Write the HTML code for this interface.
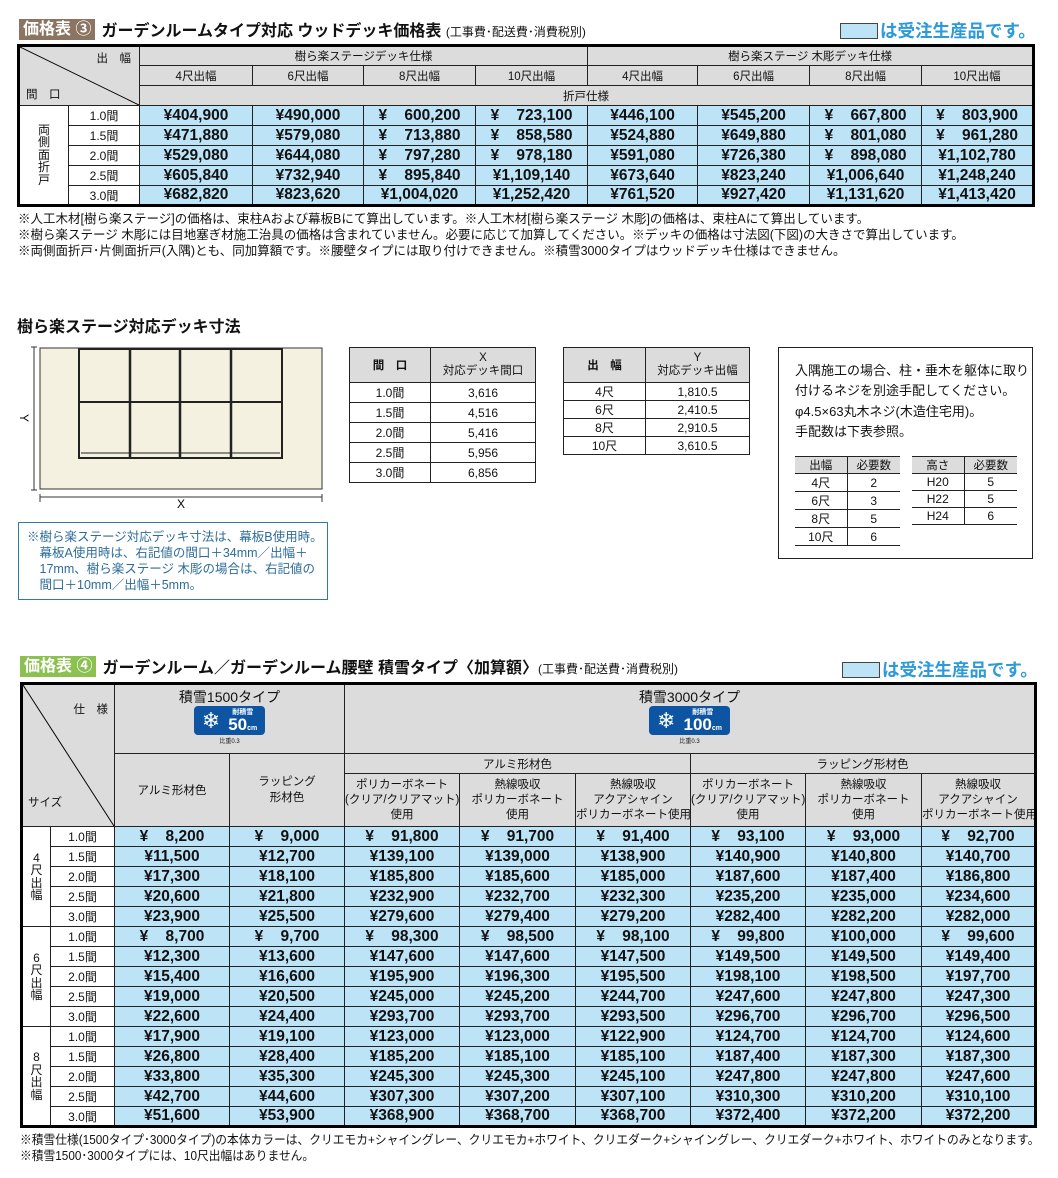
<!DOCTYPE html>
<html><head><meta charset="utf-8">
<style>
*{margin:0;padding:0;box-sizing:border-box}
body{width:1058px;height:1178px;background:#fff;position:relative;font-family:"Liberation Sans","Noto Sans CJK JP",sans-serif;color:#111;overflow:hidden}
.abs{position:absolute}
table{border-collapse:collapse;table-layout:fixed;position:absolute}
td{border:1px solid #222;text-align:center;vertical-align:middle;padding:0;overflow:hidden;white-space:nowrap}
.h{background:#dcdcdc;font-size:11.5px}
.b{background:#bde3f7;font-weight:bold;font-size:15.5px}
.w{background:#fff;font-size:12px}
.badge{display:inline-block;font-weight:bold;color:#fff;font-size:16px;line-height:21px;padding:0 4px}
.title{font-weight:bold;font-size:16px;white-space:nowrap}
.sub{font-size:12px;font-weight:normal}
.note{font-size:12.5px;white-space:nowrap;line-height:16px;transform-origin:0 0}
.leg{display:flex;align-items:center;white-space:nowrap}
.leg i{display:inline-block;width:38px;height:16px;background:#bde3f7;border:1px solid #444;margin-right:2px}
.leg span{color:#2d9ad9;font-weight:bold;font-size:17.5px}
.vt{font-size:12px;line-height:12.5px;white-space:normal;word-break:break-all;width:14px;margin:0 auto}
.snow{display:inline-flex;align-items:center;background:#0d55a3;border-radius:4px;color:#fff;height:29px;padding:0 8px;gap:8px}
.snow .f{font-size:22px;line-height:22px}
.snow .t{display:flex;flex-direction:column;align-items:center;line-height:1}
.snow .t b{font-size:7px}
.snow .t em{font-style:normal;font-weight:bold;font-size:17px}
.sg{font-size:6px;display:block;margin-top:1px}
</style></head><body>

<div class="abs" style="left:19px;top:17px;display:flex;align-items:center">
<span class="badge" style="background:#8c7462">価格表 ③</span>
<span class="title" style="margin-left:6px">ガーデンルームタイプ対応 ウッドデッキ価格表 <span class="sub">(工事費･配送費･消費税別)</span></span>
</div>
<div class="abs leg" style="left:840px;top:18px"><i></i><span>は受注生産品です。</span></div>

<table style="left:17px;top:44px;width:1017px;border:3px solid #000">
<colgroup><col style="width:50px"><col style="width:71px"><col style="width:113px"><col style="width:111px"><col style="width:112px"><col style="width:112px"><col style="width:110px"><col style="width:112px"><col style="width:112px"><col style="width:112px"></colgroup>
<tr style="height:20px"><td class="h" colspan="2" rowspan="3" style="position:relative;background:#dcdcdc url('data:image/svg+xml;utf8,<svg xmlns=%22http://www.w3.org/2000/svg%22 width=%22121%22 height=%2260%22 preserveAspectRatio=%22none%22><line x1=%220%22 y1=%220%22 x2=%22121%22 y2=%2260%22 stroke=%22black%22 stroke-width=%221%22/></svg>') no-repeat;background-size:100% 100%">
<span style="position:absolute;right:8px;top:3px">出　幅</span><span style="position:absolute;left:6px;bottom:3px">間　口</span></td>
<td class="h" colspan="4">樹ら楽ステージデッキ仕様</td><td class="h" colspan="4">樹ら楽ステージ 木彫デッキ仕様</td></tr>
<tr style="height:20px"><td class="h">4尺出幅</td><td class="h">6尺出幅</td><td class="h">8尺出幅</td><td class="h">10尺出幅</td><td class="h">4尺出幅</td><td class="h">6尺出幅</td><td class="h">8尺出幅</td><td class="h">10尺出幅</td></tr>
<tr style="height:20px"><td class="h" colspan="8">折戸仕様</td></tr>
<tr style="height:20px"><td class="w" rowspan="5"><div class="vt">両側面折戸</div></td><td class="w">1.0間</td><td class="b">¥404,900</td><td class="b">¥490,000</td><td class="b">¥&#8199;&#8199;600,200</td><td class="b">¥&#8199;&#8199;723,100</td><td class="b">¥446,100</td><td class="b">¥545,200</td><td class="b">¥&#8199;&#8199;667,800</td><td class="b">¥&#8199;&#8199;803,900</td></tr>
<tr style="height:20px"><td class="w">1.5間</td><td class="b">¥471,880</td><td class="b">¥579,080</td><td class="b">¥&#8199;&#8199;713,880</td><td class="b">¥&#8199;&#8199;858,580</td><td class="b">¥524,880</td><td class="b">¥649,880</td><td class="b">¥&#8199;&#8199;801,080</td><td class="b">¥&#8199;&#8199;961,280</td></tr>
<tr style="height:20px"><td class="w">2.0間</td><td class="b">¥529,080</td><td class="b">¥644,080</td><td class="b">¥&#8199;&#8199;797,280</td><td class="b">¥&#8199;&#8199;978,180</td><td class="b">¥591,080</td><td class="b">¥726,380</td><td class="b">¥&#8199;&#8199;898,080</td><td class="b">¥1,102,780</td></tr>
<tr style="height:20px"><td class="w">2.5間</td><td class="b">¥605,840</td><td class="b">¥732,940</td><td class="b">¥&#8199;&#8199;895,840</td><td class="b">¥1,109,140</td><td class="b">¥673,640</td><td class="b">¥823,240</td><td class="b">¥1,006,640</td><td class="b">¥1,248,240</td></tr>
<tr style="height:20px"><td class="w">3.0間</td><td class="b">¥682,820</td><td class="b">¥823,620</td><td class="b">¥1,004,020</td><td class="b">¥1,252,420</td><td class="b">¥761,520</td><td class="b">¥927,420</td><td class="b">¥1,131,620</td><td class="b">¥1,413,420</td></tr>
</table>

<div class="abs note" style="left:18px;top:211px">※人工木材[樹ら楽ステージ]の価格は、束柱Aおよび幕板Bにて算出しています。※人工木材[樹ら楽ステージ 木彫]の価格は、束柱Aにて算出しています。<br>※樹ら楽ステージ 木彫には目地塞ぎ材施工治具の価格は含まれていません。必要に応じて加算してください。※デッキの価格は寸法図(下図)の大きさで算出しています。<br>※両側面折戸･片側面折戸(入隅)とも、同加算額です。※腰壁タイプには取り付けできません。※積雪3000タイプはウッドデッキ仕様はできません。</div>

<div class="abs title" style="left:17px;top:313px">樹ら楽ステージ対応デッキ寸法</div>
<svg class="abs" style="left:0;top:340px" width="340" height="175">
<rect x="40" y="8" width="282" height="141" fill="#f4f1e1" stroke="#333" stroke-width="1"/>
<g fill="#f4f1e1" stroke="#222">
<rect x="79" y="9" width="203" height="109" stroke-width="2"/>
<line x1="79" y1="62" x2="282" y2="62" stroke-width="2"/>
<line x1="130" y1="9" x2="130" y2="118" stroke-width="2.5"/>
<line x1="180" y1="9" x2="180" y2="118" stroke-width="2.5"/>
<line x1="231" y1="9" x2="231" y2="118" stroke-width="2.5"/>
<line x1="81" y1="113" x2="280" y2="113" stroke-width="1"/>
</g>
<line x1="34" y1="7" x2="34" y2="150" stroke="#333"/>
<line x1="31" y1="7" x2="37" y2="7" stroke="#333"/><line x1="31" y1="150" x2="37" y2="150" stroke="#333"/>
<line x1="40" y1="157" x2="322" y2="157" stroke="#333"/>
<line x1="40" y1="154" x2="40" y2="162" stroke="#333"/><line x1="322" y1="154" x2="322" y2="162" stroke="#333"/>
<text x="181" y="168" font-size="12" text-anchor="middle" font-family="Liberation Sans">X</text>
<text x="0" y="0" font-size="12" text-anchor="middle" font-family="Liberation Sans" transform="translate(20,78) rotate(90)">Y</text>
</svg>
<div class="abs" style="left:18px;top:522px;width:310px;height:78px;border:1.5px solid #2d7ba6;color:#2d6c9a;font-size:12.5px;line-height:16px;padding:6px 0 0 8px;white-space:nowrap">※樹ら楽ステージ対応デッキ寸法は、幕板B使用時。<br>　幕板A使用時は、右記値の間口＋34mm／出幅＋<br>　17mm、樹ら楽ステージ 木彫の場合は、右記値の<br>　間口＋10mm／出幅＋5mm。</div>

<table style="left:349px;top:347px;width:186px;border:1px solid #222">
<colgroup><col style="width:81px"><col style="width:105px"></colgroup>
<tr style="height:35px"><td class="h" style="font-weight:bold">間　口</td><td class="h" style="line-height:13px">X<br>対応デッキ間口</td></tr>
<tr style="height:20px"><td class="w">1.0間</td><td class="w">3,616</td></tr>
<tr style="height:20px"><td class="w">1.5間</td><td class="w">4,516</td></tr>
<tr style="height:20px"><td class="w">2.0間</td><td class="w">5,416</td></tr>
<tr style="height:20px"><td class="w">2.5間</td><td class="w">5,956</td></tr>
<tr style="height:20px"><td class="w">3.0間</td><td class="w">6,856</td></tr>
</table>

<table style="left:563px;top:347px;width:186px;border:1px solid #222">
<colgroup><col style="width:82px"><col style="width:104px"></colgroup>
<tr style="height:35px"><td class="h" style="font-weight:bold">出　幅</td><td class="h" style="line-height:13px">Y<br>対応デッキ出幅</td></tr>
<tr style="height:17px"><td class="w">4尺</td><td class="w">1,810.5</td></tr>
<tr style="height:17px"><td class="w">6尺</td><td class="w">2,410.5</td></tr>
<tr style="height:17px"><td class="w">8尺</td><td class="w">2,910.5</td></tr>
<tr style="height:17px"><td class="w">10尺</td><td class="w">3,610.5</td></tr>
</table>

<div class="abs" style="left:778px;top:347px;width:255px;height:212px;border:1px solid #222"></div>
<div class="abs" style="left:795px;top:361px;font-size:13px;line-height:20.3px;white-space:nowrap">入隅施工の場合、柱・垂木を躯体に取り<br>付けるネジを別途手配してください。<br>φ4.5×63丸木ネジ(木造住宅用)。<br>手配数は下表参照。</div>
<table style="left:795px;top:456px;width:105px;border-top:1px solid #222;border-bottom:1px solid #222">
<colgroup><col style="width:52px"><col style="width:53px"></colgroup>
<tr style="height:17px"><td class="h" style="border-left:0">出幅</td><td class="h" style="border-right:0">必要数</td></tr>
<tr style="height:17px"><td class="w" style="border-left:0">4尺</td><td class="w" style="border-right:0">2</td></tr>
<tr style="height:17px"><td class="w" style="border-left:0">6尺</td><td class="w" style="border-right:0">3</td></tr>
<tr style="height:17px"><td class="w" style="border-left:0">8尺</td><td class="w" style="border-right:0">5</td></tr>
<tr style="height:17px"><td class="w" style="border-left:0">10尺</td><td class="w" style="border-right:0">6</td></tr>
</table>
<table style="left:912px;top:456px;width:105px;border-top:1px solid #222;border-bottom:1px solid #222">
<colgroup><col style="width:52px"><col style="width:53px"></colgroup>
<tr style="height:17px"><td class="h" style="border-left:0">高さ</td><td class="h" style="border-right:0">必要数</td></tr>
<tr style="height:17px"><td class="w" style="border-left:0">H20</td><td class="w" style="border-right:0">5</td></tr>
<tr style="height:17px"><td class="w" style="border-left:0">H22</td><td class="w" style="border-right:0">5</td></tr>
<tr style="height:17px"><td class="w" style="border-left:0">H24</td><td class="w" style="border-right:0">6</td></tr>
</table>

<div class="abs" style="left:20px;top:654px;display:flex;align-items:center">
<span class="badge" style="background:#8cc152">価格表 ④</span>
<span class="title" style="margin-left:6px">ガーデンルーム／ガーデンルーム腰壁 積雪タイプ〈加算額〉<span class="sub">(工事費･配送費･消費税別)</span></span>
</div>
<div class="abs leg" style="left:842px;top:657px"><i></i><span>は受注生産品です。</span></div>

<table style="left:20px;top:682px;width:1014px;border:3px solid #000">
<colgroup><col style="width:29px"><col style="width:64px"><col style="width:115px"><col style="width:115px"><col style="width:115px"><col style="width:116px"><col style="width:115px"><col style="width:115px"><col style="width:116px"><col style="width:114px"></colgroup>
<tr style="height:70px"><td class="h" colspan="2" rowspan="3" style="position:relative;background:#dcdcdc url('data:image/svg+xml;utf8,<svg xmlns=%22http://www.w3.org/2000/svg%22 width=%2293%22 height=%22143%22 preserveAspectRatio=%22none%22><line x1=%220%22 y1=%220%22 x2=%2293%22 y2=%22143%22 stroke=%22black%22 stroke-width=%221%22/></svg>') no-repeat;background-size:100% 100%">
<span style="position:absolute;right:6px;top:16px">仕　様</span><span style="position:absolute;left:5px;bottom:16px">サイズ</span></td>
<td class="h" colspan="2" style="vertical-align:top;padding-top:3px"><div style="font-size:14px;line-height:18px">積雪1500タイプ</div><div class="snow"><span class="f">❄</span><span class="t"><b>耐積雪</b><em>50<small style="font-size:7px">cm</small></em></span></div><span class="sg">比重0.3</span></td>
<td class="h" colspan="6" style="vertical-align:top;padding-top:3px"><div style="font-size:14px;line-height:18px">積雪3000タイプ</div><div class="snow"><span class="f">❄</span><span class="t"><b>耐積雪</b><em>100<small style="font-size:7px">cm</small></em></span></div><span class="sg">比重0.3</span></td></tr>
<tr style="height:20px"><td class="h" rowspan="2">アルミ形材色</td><td class="h" rowspan="2" style="line-height:16px">ラッピング<br>形材色</td><td class="h" colspan="3">アルミ形材色</td><td class="h" colspan="3">ラッピング形材色</td></tr>
<tr style="height:53px;line-height:15px"><td class="h">ポリカーボネート<br>(クリア/クリアマット)<br>使用</td><td class="h">熱線吸収<br>ポリカーボネート<br>使用</td><td class="h">熱線吸収<br>アクアシャイン<br>ポリカーボネート使用</td><td class="h">ポリカーボネート<br>(クリア/クリアマット)<br>使用</td><td class="h">熱線吸収<br>ポリカーボネート<br>使用</td><td class="h">熱線吸収<br>アクアシャイン<br>ポリカーボネート使用</td></tr>
<tr style="height:20px"><td class="w" rowspan="5"><div class="vt">4尺出幅</div></td><td class="w">1.0間</td><td class="b">¥&#8199;&#8199;8,200</td><td class="b">¥&#8199;&#8199;9,000</td><td class="b">¥&#8199;&#8199;91,800</td><td class="b">¥&#8199;&#8199;91,700</td><td class="b">¥&#8199;&#8199;91,400</td><td class="b">¥&#8199;&#8199;93,100</td><td class="b">¥&#8199;&#8199;93,000</td><td class="b">¥&#8199;&#8199;92,700</td></tr>
<tr style="height:20px"><td class="w">1.5間</td><td class="b">¥11,500</td><td class="b">¥12,700</td><td class="b">¥139,100</td><td class="b">¥139,000</td><td class="b">¥138,900</td><td class="b">¥140,900</td><td class="b">¥140,800</td><td class="b">¥140,700</td></tr>
<tr style="height:20px"><td class="w">2.0間</td><td class="b">¥17,300</td><td class="b">¥18,100</td><td class="b">¥185,800</td><td class="b">¥185,600</td><td class="b">¥185,000</td><td class="b">¥187,600</td><td class="b">¥187,400</td><td class="b">¥186,800</td></tr>
<tr style="height:20px"><td class="w">2.5間</td><td class="b">¥20,600</td><td class="b">¥21,800</td><td class="b">¥232,900</td><td class="b">¥232,700</td><td class="b">¥232,300</td><td class="b">¥235,200</td><td class="b">¥235,000</td><td class="b">¥234,600</td></tr>
<tr style="height:20px"><td class="w">3.0間</td><td class="b">¥23,900</td><td class="b">¥25,500</td><td class="b">¥279,600</td><td class="b">¥279,400</td><td class="b">¥279,200</td><td class="b">¥282,400</td><td class="b">¥282,200</td><td class="b">¥282,000</td></tr>
<tr style="height:20px"><td class="w" rowspan="5"><div class="vt">6尺出幅</div></td><td class="w">1.0間</td><td class="b">¥&#8199;&#8199;8,700</td><td class="b">¥&#8199;&#8199;9,700</td><td class="b">¥&#8199;&#8199;98,300</td><td class="b">¥&#8199;&#8199;98,500</td><td class="b">¥&#8199;&#8199;98,100</td><td class="b">¥&#8199;&#8199;99,800</td><td class="b">¥100,000</td><td class="b">¥&#8199;&#8199;99,600</td></tr>
<tr style="height:20px"><td class="w">1.5間</td><td class="b">¥12,300</td><td class="b">¥13,600</td><td class="b">¥147,600</td><td class="b">¥147,600</td><td class="b">¥147,500</td><td class="b">¥149,500</td><td class="b">¥149,500</td><td class="b">¥149,400</td></tr>
<tr style="height:20px"><td class="w">2.0間</td><td class="b">¥15,400</td><td class="b">¥16,600</td><td class="b">¥195,900</td><td class="b">¥196,300</td><td class="b">¥195,500</td><td class="b">¥198,100</td><td class="b">¥198,500</td><td class="b">¥197,700</td></tr>
<tr style="height:20px"><td class="w">2.5間</td><td class="b">¥19,000</td><td class="b">¥20,500</td><td class="b">¥245,000</td><td class="b">¥245,200</td><td class="b">¥244,700</td><td class="b">¥247,600</td><td class="b">¥247,800</td><td class="b">¥247,300</td></tr>
<tr style="height:20px"><td class="w">3.0間</td><td class="b">¥22,600</td><td class="b">¥24,400</td><td class="b">¥293,700</td><td class="b">¥293,700</td><td class="b">¥293,500</td><td class="b">¥296,700</td><td class="b">¥296,700</td><td class="b">¥296,500</td></tr>
<tr style="height:20px"><td class="w" rowspan="5"><div class="vt">8尺出幅</div></td><td class="w">1.0間</td><td class="b">¥17,900</td><td class="b">¥19,100</td><td class="b">¥123,000</td><td class="b">¥123,000</td><td class="b">¥122,900</td><td class="b">¥124,700</td><td class="b">¥124,700</td><td class="b">¥124,600</td></tr>
<tr style="height:20px"><td class="w">1.5間</td><td class="b">¥26,800</td><td class="b">¥28,400</td><td class="b">¥185,200</td><td class="b">¥185,100</td><td class="b">¥185,100</td><td class="b">¥187,400</td><td class="b">¥187,300</td><td class="b">¥187,300</td></tr>
<tr style="height:20px"><td class="w">2.0間</td><td class="b">¥33,800</td><td class="b">¥35,300</td><td class="b">¥245,300</td><td class="b">¥245,300</td><td class="b">¥245,100</td><td class="b">¥247,800</td><td class="b">¥247,800</td><td class="b">¥247,600</td></tr>
<tr style="height:20px"><td class="w">2.5間</td><td class="b">¥42,700</td><td class="b">¥44,600</td><td class="b">¥307,300</td><td class="b">¥307,200</td><td class="b">¥307,100</td><td class="b">¥310,300</td><td class="b">¥310,200</td><td class="b">¥310,100</td></tr>
<tr style="height:20px"><td class="w">3.0間</td><td class="b">¥51,600</td><td class="b">¥53,900</td><td class="b">¥368,900</td><td class="b">¥368,700</td><td class="b">¥368,700</td><td class="b">¥372,400</td><td class="b">¥372,200</td><td class="b">¥372,200</td></tr>
</table>

<div class="abs note" style="left:20px;top:1132px;transform:scaleX(0.94)">※積雪仕様(1500タイプ･3000タイプ)の本体カラーは、クリエモカ+シャイングレー、クリエモカ+ホワイト、クリエダーク+シャイングレー、クリエダーク+ホワイト、ホワイトのみとなります。<br>※積雪1500･3000タイプには、10尺出幅はありません。</div>

</body></html>
